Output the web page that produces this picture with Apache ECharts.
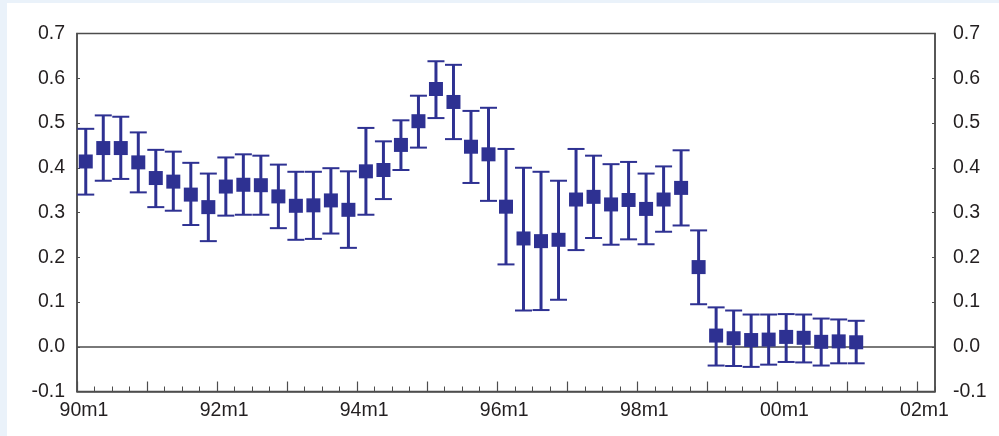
<!DOCTYPE html>
<html>
<head>
<meta charset="utf-8">
<script src="https://cdn.jsdelivr.net/npm/echarts@6/dist/echarts.min.js"></script>
<style>
  html, body { margin: 0; padding: 0; background: #eaf2fa; }
  #panel { position: absolute; left: 7px; top: 3px; width: 992px; height: 433px; background: #ffffff; }
  #chart { position: absolute; left: 0; top: 0; width: 999px; height: 436px; }
</style>
</head>
<body>
<div id="panel"></div>
<div id="chart"></div>
<script>
// Quarterly periods (year, quarter)
const periods = [
  '1990Q1','1990Q2','1990Q3','1990Q4','1991Q1','1991Q2','1991Q3','1991Q4',
  '1992Q1','1992Q2','1992Q3','1992Q4','1993Q1','1993Q2','1993Q3','1993Q4',
  '1994Q1','1994Q2','1994Q3','1994Q4','1995Q1','1995Q2','1995Q3','1995Q4',
  '1996Q1','1996Q2','1996Q3','1996Q4','1997Q1','1997Q2','1997Q3','1997Q4',
  '1998Q1','1998Q2','1998Q3','1998Q4','1999Q1','1999Q2','1999Q3','1999Q4',
  '2000Q1','2000Q2','2000Q3','2000Q4','2001Q1'
];
// Point estimates
const estimate = [
  0.414, 0.444, 0.444, 0.412, 0.377, 0.369, 0.340, 0.312,
  0.358, 0.362, 0.361, 0.336, 0.315, 0.316, 0.327, 0.306,
  0.392, 0.395, 0.451, 0.504, 0.576, 0.547, 0.447, 0.430,
  0.313, 0.242, 0.236, 0.239, 0.329, 0.335, 0.318, 0.328,
  0.308, 0.329, 0.355, 0.178, 0.025, 0.019, 0.015, 0.016,
  0.022, 0.020, 0.011, 0.012, 0.010
];
// Upper bounds
const upper = [
  0.487, 0.517, 0.514, 0.479, 0.440, 0.436, 0.411, 0.387,
  0.423, 0.430, 0.427, 0.407, 0.391, 0.391, 0.399, 0.392,
  0.489, 0.459, 0.506, 0.561, 0.638, 0.630, 0.527, 0.534,
  0.442, 0.400, 0.391, 0.371, 0.442, 0.427, 0.408, 0.413,
  0.387, 0.403, 0.439, 0.260, 0.088, 0.081, 0.072, 0.072,
  0.073, 0.072, 0.063, 0.061, 0.058
];
// Lower bounds
const lower = [
  0.340, 0.371, 0.375, 0.345, 0.312, 0.304, 0.272, 0.236,
  0.293, 0.295, 0.295, 0.265, 0.239, 0.241, 0.253, 0.221,
  0.295, 0.330, 0.395, 0.445, 0.511, 0.464, 0.366, 0.326,
  0.184, 0.081, 0.082, 0.105, 0.216, 0.243, 0.228, 0.240,
  0.229, 0.257, 0.271, 0.095, -0.042, -0.043, -0.045, -0.040,
  -0.034, -0.035, -0.042, -0.037, -0.037
];
// Axis ticks
const yTicks = [-0.1, 0.0, 0.1, 0.2, 0.3, 0.4, 0.5, 0.6, 0.7];
const xLabelYears = [1990, 1992, 1994, 1996, 1998, 2000, 2002];

const COLOR = '#2e3192';
const AXIS = '#4d4d4d';
const FONT = 'Liberation Sans, Arial, sans-serif';

// mid-quarter position in decimal years
function periodToX(p) {
  const y = parseInt(p.slice(0, 4), 10);
  const q = parseInt(p.slice(5), 10);
  return y + (q - 1) * 0.25 + 0.125;
}
const pointData = periods.map((p, i) => [periodToX(p), estimate[i]]);
const barData = periods.map((p, i) => [periodToX(p), lower[i], upper[i]]);

function xLabel(v) {
  const r = Math.round(v * 1000) / 1000;
  if (Math.abs(r - Math.round(r)) > 1e-6) return '';
  const yr = Math.round(r);
  if (xLabelYears.indexOf(yr) < 0) return '';
  return String(yr % 100).padStart(2, '0') + 'm1';
}

const chart = echarts.init(document.getElementById('chart'), null, { renderer: 'canvas' });
const yCommon = {
  type: 'value', min: yTicks[0], max: yTicks[yTicks.length - 1], interval: 0.1,
  axisLine: { show: true, lineStyle: { color: AXIS, width: 1.5 } },
  axisTick: { show: true, inside: true, length: 3, lineStyle: { color: AXIS, width: 1 } },
  splitLine: { show: false },
  axisLabel: { color: '#231f20', fontSize: 19.5, fontFamily: FONT, formatter: v => (Math.round(v * 10) / 10).toFixed(1) }
};
chart.setOption({
  animation: false,
  grid: { left: 77, right: 64, top: 33.5, bottom: 44.5, show: true, borderColor: AXIS, borderWidth: 1.5, backgroundColor: 'transparent' },
  xAxis: [
    {
      type: 'value', min: 1990, max: 2002.25, interval: 1, position: 'bottom',
      axisLine: { show: true, onZero: false, lineStyle: { color: AXIS, width: 1.5 } },
      axisTick: { show: true, inside: true, length: 10, lineStyle: { color: AXIS, width: 1.2 } },
      splitLine: { show: false },
      axisLabel: { show: true, color: '#231f20', fontSize: 19.5, fontFamily: FONT, margin: 9, padding: [0, 0, 0, 14], formatter: xLabel, showMaxLabel: false }
    },
    {
      type: 'value', min: 1990, max: 2002.25, interval: 0.25, position: 'bottom',
      axisLine: { show: false, onZero: false },
      axisTick: { show: true, inside: true, length: 5, lineStyle: { color: AXIS, width: 1 } },
      splitLine: { show: false },
      axisLabel: { show: false }
    }
  ],
  yAxis: [
    Object.assign({}, yCommon, { position: 'left', axisLabel: Object.assign({}, yCommon.axisLabel, { margin: 12 }) }),
    Object.assign({}, yCommon, { position: 'right', axisLabel: Object.assign({}, yCommon.axisLabel, { margin: 18 }) })
  ],
  series: [
    {
      type: 'custom', xAxisIndex: 0, yAxisIndex: 0, silent: true,
      encode: { x: 0, y: [1, 2] },
      data: barData,
      renderItem: function (params, api) {
        const x = api.value(0);
        const lo = api.coord([x, api.value(1)]);
        const hi = api.coord([x, api.value(2)]);
        const hw = 8.5;
        return {
          type: 'group',
          children: [
            { type: 'line', shape: { x1: hi[0], y1: hi[1], x2: lo[0], y2: lo[1] }, style: { stroke: COLOR, lineWidth: 3 } },
            { type: 'line', shape: { x1: hi[0] - hw, y1: hi[1], x2: hi[0] + hw, y2: hi[1] }, style: { stroke: COLOR, lineWidth: 2 } },
            { type: 'line', shape: { x1: lo[0] - hw, y1: lo[1], x2: lo[0] + hw, y2: lo[1] }, style: { stroke: COLOR, lineWidth: 2 } }
          ]
        };
      },
      z: 2
    },
    {
      type: 'scatter', xAxisIndex: 0, yAxisIndex: 0, silent: true,
      symbol: 'rect', symbolSize: 14,
      itemStyle: { color: COLOR, opacity: 1 },
      data: pointData,
      z: 3,
      markLine: {
        silent: true, symbol: 'none', label: { show: false },
        lineStyle: { color: AXIS, width: 1.5, type: 'solid' },
        data: [{ yAxis: 0 }],
        z: 1
      }
    }
  ]
});
</script>
</body>
</html>
